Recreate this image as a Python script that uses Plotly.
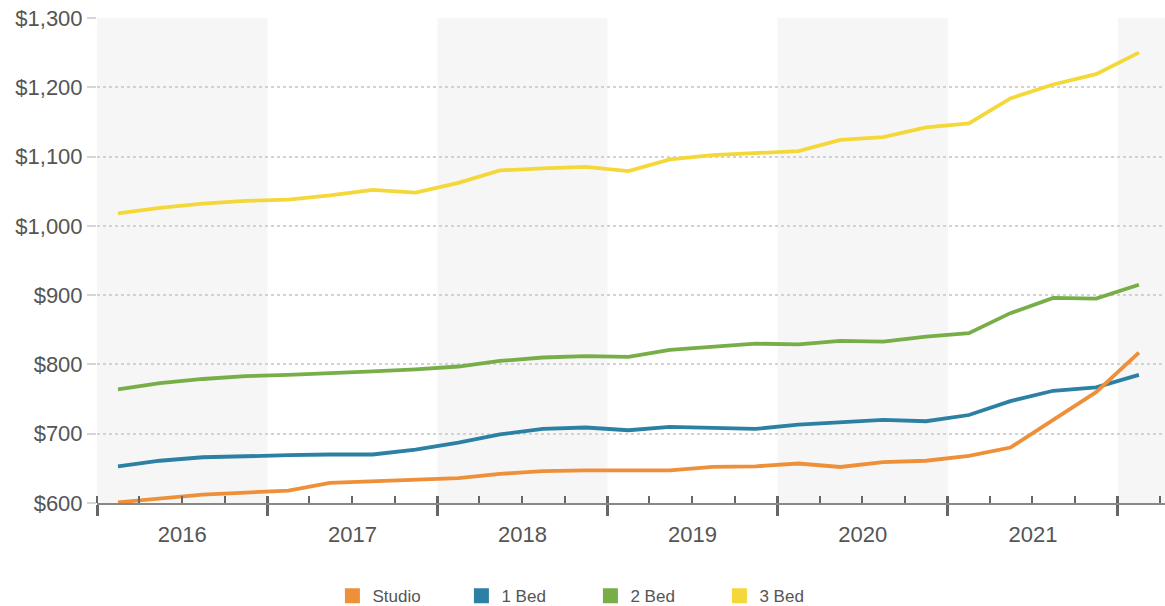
import plotly.graph_objects as go

# Quarterly observation dates (mid-quarter)
dates = [
    "2016-02-15", "2016-05-15", "2016-08-15", "2016-11-15",
    "2017-02-15", "2017-05-15", "2017-08-15", "2017-11-15",
    "2018-02-15", "2018-05-15", "2018-08-15", "2018-11-15",
    "2019-02-15", "2019-05-15", "2019-08-15", "2019-11-15",
    "2020-02-15", "2020-05-15", "2020-08-15", "2020-11-15",
    "2021-02-15", "2021-05-15", "2021-08-15", "2021-11-15",
    "2022-02-15",
]

studio = [601, 606, 612, 615, 618, 629, 631, 633, 636, 642, 646, 647, 647,
          647, 652, 653, 657, 652, 659, 661, 668, 680, 720, 760, 817]
one_bed = [653, 661, 666, 668, 669, 670, 670, 677, 687, 699, 707, 709, 705,
           710, 708, 707, 713, 717, 720, 718, 727, 747, 762, 767, 785]
two_bed = [764, 773, 779, 783, 785, 787, 790, 793, 797, 805, 810, 812, 811,
           821, 826, 830, 829, 834, 833, 840, 845, 874, 896, 895, 915]
three_bed = [1018, 1026, 1032, 1036, 1038, 1044, 1052, 1048, 1062, 1080, 1083,
             1085, 1079, 1096, 1102, 1105, 1108, 1124, 1128, 1142, 1148, 1184,
             1204, 1219, 1250]

series_names = ["Studio", "1 Bed", "2 Bed", "3 Bed"]
series_values = [studio, one_bed, two_bed, three_bed]
colors = ["#EE8F3A", "#2C80A3", "#77AE48", "#F4D83A"]

shaded_years = [2016, 2018, 2020, 2022]

x_range = ["2016-01-01", "2022-04-12"]
y_range = [600, 1300]

FONT = "Liberation Sans, Arial, sans-serif"
TEXT = "#555555"

fig = go.Figure()

# Alternating year bands
for yr in shaded_years:
    fig.add_vrect(x0=f"{yr}-01-01", x1=f"{yr + 1}-01-01", fillcolor="#f6f6f6",
                  line_width=0, layer="below")

# Lines (drawn 3 Bed first so Studio ends on top)
for name, vals, col in reversed(list(zip(series_names, series_values, colors))):
    fig.add_trace(go.Scatter(x=dates, y=vals, mode="lines", name=name,
                             line=dict(color=col, width=3.8), showlegend=False,
                             hovertemplate="%{x|%b %Y}: $%{y:,}<extra>" + name + "</extra>"))

# Legend entries with square swatches
for name, col in zip(series_names, colors):
    fig.add_trace(go.Scatter(x=[None], y=[None], mode="markers", name=name,
                             marker=dict(symbol="square", size=15, color=col),
                             showlegend=True))

fig.update_layout(
    width=1165, height=606,
    margin=dict(l=97, r=0, t=18, b=103, autoexpand=False),
    paper_bgcolor="white", plot_bgcolor="white",
    font=dict(family=FONT, color=TEXT),
    showlegend=True,
    legend=dict(orientation="h", xref="paper", yref="paper",
                x=0.462, xanchor="center", y=-0.192, yanchor="middle",
                font=dict(size=17, color=TEXT), entrywidth=84,
                traceorder="normal", bgcolor="rgba(0,0,0,0)"),
    xaxis=dict(
        type="date", range=x_range, tick0="2016-01-01", dtick="M12",
        ticklabelmode="period", tickformat="%Y", automargin=False,
        ticks="outside", ticklen=11, tickwidth=2.5, tickcolor="#666666",
        showline=True, linecolor="#888888", linewidth=2,
        showgrid=False, zeroline=False,
        tickfont=dict(size=22, color=TEXT, family=FONT),
        minor=dict(ticks="inside", dtick="M3", ticklen=7, tickwidth=1.5,
                   tickcolor="#666666", showgrid=False),
    ),
    xaxis2=dict(
        type="date", range=x_range, overlaying="x", matches="x",
        tick0="2016-01-01", dtick="M12", ticks="inside", ticklen=7,
        tickwidth=2.5, tickcolor="#666666", showticklabels=False,
        showgrid=False, showline=False, zeroline=False, anchor="y",
        side="bottom", automargin=False,
    ),
    yaxis=dict(
        range=y_range, dtick=100, tick0=600, tickprefix="$", tickformat=",d",
        showgrid=True, gridcolor="#d2d2d2", griddash="dot", gridwidth=1.5,
        ticks="outside", ticklen=9, tickcolor="#d5d5d5", tickwidth=1.5,
        zeroline=False, showline=False, automargin=False,
        tickfont=dict(size=22, color=TEXT, family=FONT),
    ),
)

# dummy trace to activate xaxis2
fig.add_trace(go.Scatter(x=[None], y=[None], xaxis="x2", yaxis="y",
                         showlegend=False, hoverinfo="skip"))

fig.write_html("out.html",
               config={"displayModeBar": False},
               post_script="document.body.style.margin='0';"
                           "document.body.style.overflow='hidden';")
